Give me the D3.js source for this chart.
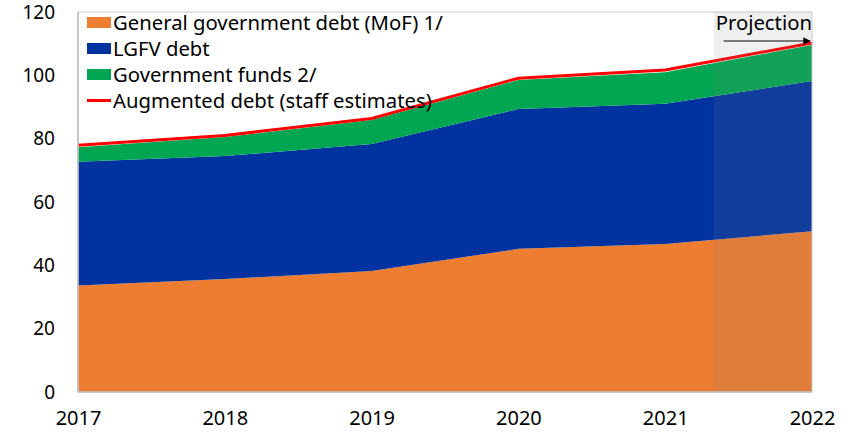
<!DOCTYPE html>
<html><head><meta charset="utf-8">
<script src="https://cdn.jsdelivr.net/npm/d3@7"></script>
<style>body{margin:0;background:#fff;}svg{display:block;font-family:"Noto Sans",sans-serif;}</style>
</head><body><svg id="c" width="852" height="435"></svg>
<script>
const years = [2017, 2018, 2019, 2020, 2021, 2022];
const govDebt = [33.6, 35.7, 38.2, 45.2, 46.7, 50.8];
const lgfvDebt = [39.1, 38.8, 40.1, 44.2, 44.3, 47.4];
const govFunds = [4.6, 6.0, 7.6, 9.1, 10.0, 11.4];
const augmented = [77.9, 81.0, 86.4, 99.1, 101.7, 110.2];
const yTicks = [0, 20, 40, 60, 80, 100, 120];
const projectionStart = 2021.33;
const seriesNames = ["General government debt (MoF) 1/", "LGFV debt", "Government funds 2/", "Augmented debt (staff estimates)"];
const colors = ["#ED7D31", "#0033A0", "#00A651", "#FF0000"];

const svg = d3.select("#c");
const L = 78, R = 812, T = 12, B = 392;
const x = d3.scaleLinear().domain([2017, 2022]).range([L, R]);
const y = d3.scaleLinear().domain([0, 120]).range([B, T]);

const rows = years.map((yr, i) => ({year: yr, gov: govDebt[i], lgfv: lgfvDebt[i], funds: govFunds[i]}));
const stack = d3.stack().keys(["gov", "lgfv", "funds"])(rows);
const area = d3.area().x(d => x(d.data.year)).y0(d => y(d[0])).y1(d => y(d[1]));
svg.append("g").selectAll("path").data(stack).join("path")
  .attr("d", area).attr("fill", (d, i) => colors[i]);

svg.append("path").datum(years.map((yr, i) => [yr, augmented[i]]))
  .attr("d", d3.line().x(d => x(d[0])).y(d => y(d[1])))
  .attr("fill", "none").attr("stroke", colors[3]).attr("stroke-width", 3);

// projection shading
svg.append("rect").attr("x", x(projectionStart)).attr("y", T)
  .attr("width", x(2022) - x(projectionStart)).attr("height", B - T)
  .attr("fill", "#808080").attr("fill-opacity", 0.13);

// frame
svg.append("rect").attr("x", L).attr("y", T).attr("width", R - L).attr("height", B - T)
  .attr("fill", "none").attr("stroke", "#c8c8c8").attr("stroke-width", 1);
svg.append("line").attr("x1", L).attr("x2", L).attr("y1", T).attr("y2", B).attr("stroke", "#bdbdbd").attr("stroke-width", 1.5);
svg.append("line").attr("x1", L).attr("x2", R).attr("y1", B).attr("y2", B).attr("stroke", "#bdbdbd").attr("stroke-width", 1.5);

// axes
const yAx = svg.append("g").attr("transform", `translate(${L},0)`)
  .call(d3.axisLeft(y).tickValues(yTicks).tickSize(0).tickPadding(23));
yAx.select(".domain").remove();
yAx.selectAll("text").attr("font-size", 19).attr("fill", "#000").attr("font-family", "Noto Sans");
const xAx = svg.append("g").attr("transform", `translate(0,${B})`)
  .call(d3.axisBottom(x).tickValues(years).tickFormat(d3.format("d")).tickSize(0).tickPadding(19));
xAx.select(".domain").remove();
xAx.selectAll("text").attr("font-size", 20).attr("fill", "#000").attr("font-family", "Noto Sans");

// legend
const lg = svg.append("g");
seriesNames.forEach((name, i) => {
  const cy = 22.5 + i * 26;
  if (i < 3) lg.append("rect").attr("x", 87).attr("y", cy - 5.5).attr("width", 24).attr("height", 11).attr("fill", colors[i]);
  else lg.append("line").attr("x1", 87).attr("x2", 111).attr("y1", cy).attr("y2", cy).attr("stroke", colors[i]).attr("stroke-width", 3);
  lg.append("text").attr("x", 113).attr("y", cy).attr("dy", "0.35em").attr("font-size", 20.3).text(name);
});

// projection label
svg.append("defs").append("marker").attr("id", "arr").attr("viewBox", "0 0 10 10")
  .attr("refX", 9).attr("refY", 5).attr("markerWidth", 5).attr("markerHeight", 5).attr("orient", "auto")
  .append("path").attr("d", "M0,0L10,5L0,10z").attr("fill", "#000");
svg.append("text").attr("x", (x(projectionStart) + R) / 2 + 1).attr("y", 23).attr("dy", "0.35em")
  .attr("text-anchor", "middle").attr("font-size", 20.3).text("Projection");
svg.append("line").attr("x1", x(projectionStart) + 10).attr("x2", R - 2).attr("y1", 41).attr("y2", 41)
  .attr("stroke", "#555").attr("stroke-width", 1.5).attr("marker-end", "url(#arr)");
</script></body></html>
